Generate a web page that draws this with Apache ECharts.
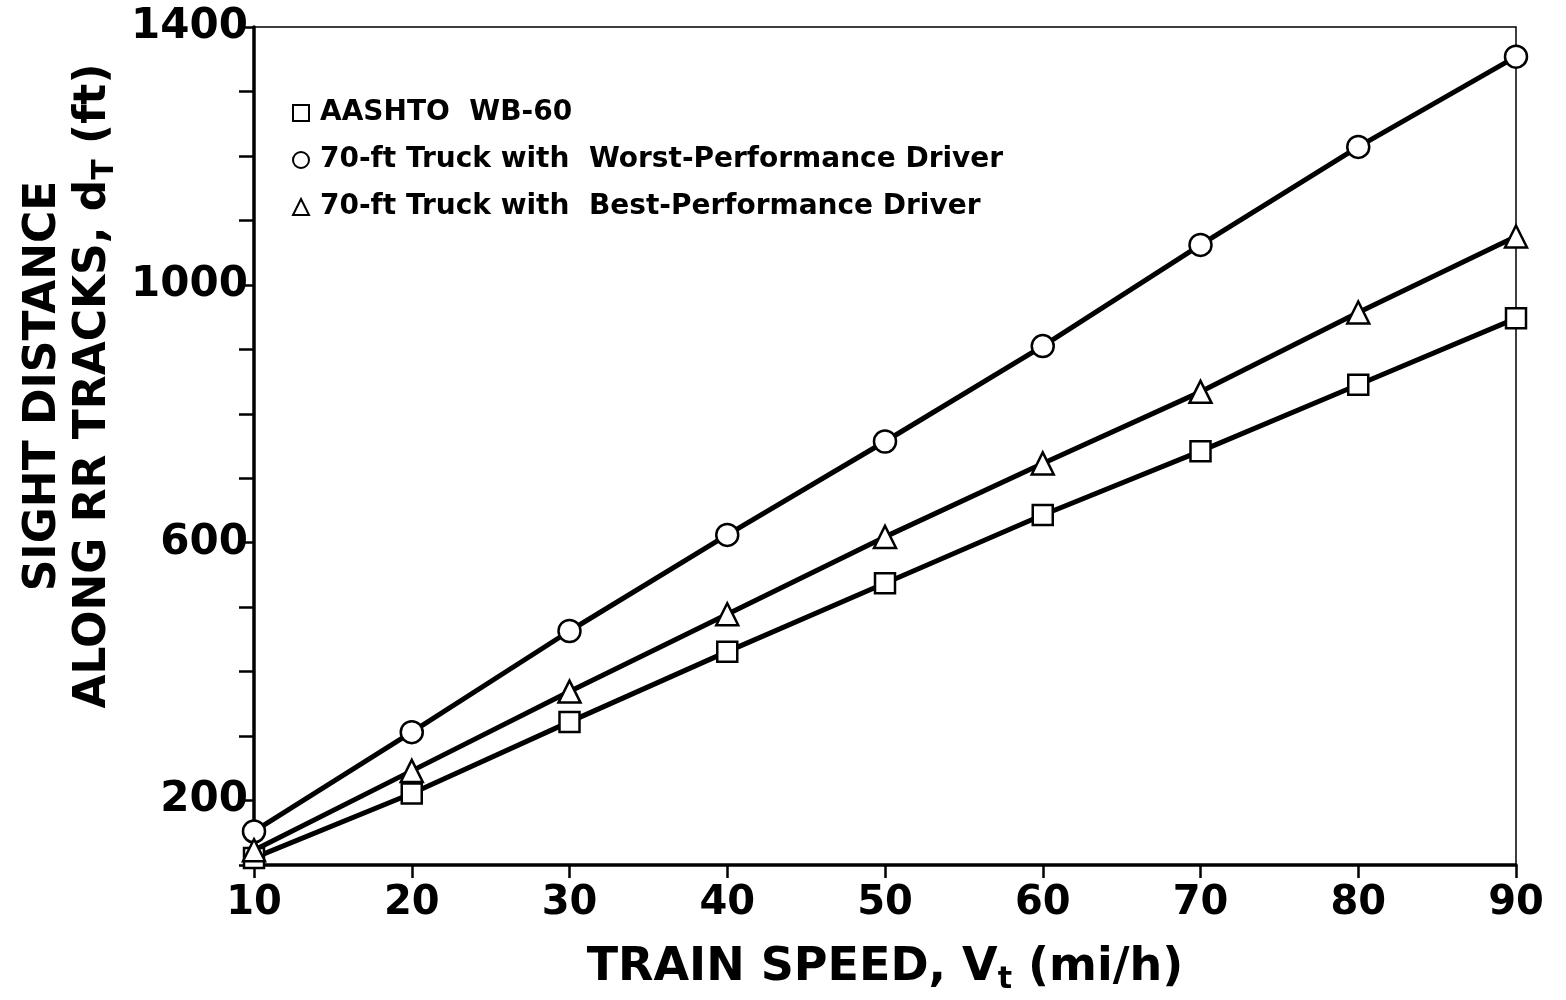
<!DOCTYPE html>
<html>
<head>
<meta charset="utf-8">
<script src="https://cdn.jsdelivr.net/npm/echarts@6/dist/echarts.min.js"></script>
<style>
  html, body { margin: 0; padding: 0; background: #fff; }
  #chart { width: 1566px; height: 1000px; }
</style>
</head>
<body>
<div id="chart"></div>
<script>
// Train speed (mi/h)
const speeds = [10, 20, 30, 40, 50, 60, 70, 80, 90];
// Required sight distance along railroad tracks (ft)
const aashtoWB60 = [111, 211, 322, 431, 537, 643, 742, 845, 948];
const worstDriver = [152, 306, 463, 612, 757, 905, 1062, 1214, 1354];
const bestDriver = [123, 246, 369, 489, 609, 723, 834, 957, 1075];
// Labelled values on the distance axis
const yTickLabels = [200, 600, 1000, 1400];

const seriesNames = [
  'AASHTO  WB-60',
  '70-ft Truck with  Worst-Performance Driver',
  '70-ft Truck with  Best-Performance Driver'
];

const FONT = '"DejaVu Sans", "Noto Sans", sans-serif';

function pairs(values) {
  return speeds.map((s, i) => [s, values[i]]);
}

function makeSeries(name, values, symbol, size) {
  return {
    name: name,
    type: 'line',
    data: pairs(values),
    symbol: symbol,
    symbolSize: size,
    showAllSymbol: true,
    clip: false,
    lineStyle: { color: '#000', width: 5 },
    itemStyle: { color: '#fff', borderColor: '#000', borderWidth: 2.5 },
    emphasis: { disabled: true },
    z: 3
  };
}

const chart = echarts.init(document.getElementById('chart'), null, { renderer: 'canvas' });

chart.setOption({
  backgroundColor: '#fff',
  animation: false,
  grid: {
    left: 254, right: 50, top: 27, bottom: 125,
    show: true, borderColor: '#000', borderWidth: 1.5, backgroundColor: 'transparent'
  },
  legend: {
    orient: 'vertical',
    left: 287,
    top: 93,
    itemGap: 17,
    itemWidth: 16,
    itemHeight: 16,
    selectedMode: false,
    data: [
      { name: seriesNames[0], icon: 'rect' },
      { name: seriesNames[1], icon: 'circle' },
      { name: seriesNames[2], icon: 'triangle' }
    ],
    itemStyle: { color: '#fff', borderColor: '#000', borderWidth: 2 },
    lineStyle: { width: 0, opacity: 0 },
    textStyle: {
      fontFamily: FONT, fontSize: 28, fontWeight: 'bold', color: '#000',
      lineHeight: 30, padding: [0, 0, 0, 6]
    }
  },
  xAxis: {
    type: 'value',
    min: 10, max: 90, interval: 10,
    name: 'TRAIN SPEED, V{sub|t} (mi/h)',
    nameLocation: 'middle',
    nameGap: 76,
    nameTextStyle: {
      fontFamily: FONT, fontSize: 46, fontWeight: 'bold', color: '#000',
      rich: { sub: { fontFamily: FONT, fontSize: 30, fontWeight: 'bold', color: '#000', padding: [24, 0, 0, 0] } }
    },
    axisLine: { show: true, onZero: false, lineStyle: { color: '#000', width: 3.5 } },
    axisTick: { show: true, inside: false, length: 13, lineStyle: { color: '#000', width: 2.5 } },
    axisLabel: { fontFamily: FONT, fontSize: 40, fontWeight: 'bold', color: '#000', margin: 19 },
    splitLine: { show: false }
  },
  yAxis: {
    type: 'value',
    min: 100, max: 1400, interval: 100,
    name: 'SIGHT DISTANCE\nALONG RR TRACKS, d{sub|T} (ft)',
    nameLocation: 'middle',
    nameGap: 134,
    nameRotate: 90,
    nameTextStyle: {
      fontFamily: FONT, fontSize: 44, fontWeight: 'bold', color: '#000', lineHeight: 50,
      padding: [0, 0, 0, 120],
      rich: { sub: { fontFamily: FONT, fontSize: 30, fontWeight: 'bold', color: '#000', padding: [24, 0, 0, 0] } }
    },
    axisLine: { show: true, onZero: false, lineStyle: { color: '#000', width: 3.5 } },
    axisTick: { show: true, inside: false, length: 15, lineStyle: { color: '#000', width: 2.5 } },
    axisLabel: {
      fontFamily: FONT, fontSize: 42, fontWeight: 'bold', color: '#000', margin: 6,
      formatter: v => (yTickLabels.indexOf(v) >= 0 ? String(v) : '')
    },
    splitLine: { show: false }
  },
  series: [
    makeSeries(seriesNames[0], aashtoWB60, 'rect', 20),
    makeSeries(seriesNames[1], worstDriver, 'circle', 22),
    makeSeries(seriesNames[2], bestDriver, 'triangle', 22)
  ]
});
</script>
</body>
</html>
